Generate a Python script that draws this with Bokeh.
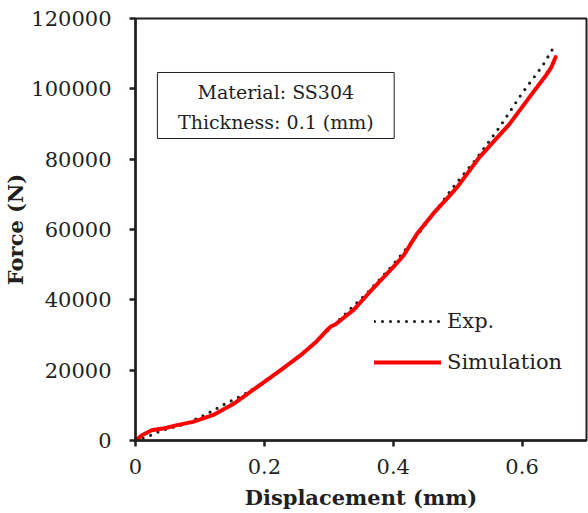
from bokeh.plotting import figure
from bokeh.models import (Range1d, BoxAnnotation, Label, Legend, LegendItem, FixedTicker,
                          PrintfTickFormatter)
from bokeh.embed import file_html
from bokeh.resources import INLINE

# Data
exp_x = [0, 0.02, 0.04, 0.079, 0.11, 0.14, 0.166, 0.2, 0.24, 0.28, 0.32, 0.36, 0.4, 0.44,
         0.493, 0.529, 0.565, 0.601, 0.632, 0.649]
exp_y = [0, 1200, 2800, 4800, 7500, 10500, 12800, 16700, 22000, 28000, 35000, 42000, 50000,
         59000, 72000, 80100, 89100, 99000, 106600, 111800]

sim_x = [0, 0.01, 0.025, 0.045, 0.063, 0.089, 0.12, 0.151, 0.192, 0.228, 0.256, 0.28, 0.298,
         0.303, 0.31, 0.339, 0.364, 0.4, 0.416, 0.437, 0.462, 0.488, 0.5, 0.534, 0.581, 0.617,
         0.637, 0.645, 0.652]
sim_y = [0, 1500, 2900, 3500, 4300, 5300, 7200, 10300, 15600, 20400, 24200, 28000, 31500,
         32400, 33000, 37200, 42300, 49300, 52600, 58800, 64500, 69700, 72200, 80600, 90100,
         99000, 103800, 106000, 109000]

x_ticks = [0, 0.2, 0.4, 0.6]
x_tick_labels = ["0", "0.2", "0.4", "0.6"]
y_ticks = [0, 20000, 40000, 60000, 80000, 100000, 120000]

FONT = "DejaVu Serif"
TXT = "#231f20"

p = figure(width=588, height=513, output_backend="svg", toolbar_location=None,
           x_range=Range1d(0, 0.7), y_range=Range1d(0, 120000),
           min_border_left=134, min_border_right=2, min_border_top=18, min_border_bottom=73)
p.grid.visible = False
p.background_fill_color = "white"
p.outline_line_color = "#231f20"
p.outline_line_width = 2

for ax in (p.xaxis[0], p.yaxis[0]):
    ax.axis_line_width = 2.5
    ax.axis_line_color = "#231f20"
    ax.major_tick_line_width = 2.5
    ax.major_tick_line_color = "#231f20"
    ax.major_tick_out = 6
    ax.major_tick_in = 0
    ax.minor_tick_out = 0
    ax.minor_tick_in = 0
    ax.major_label_text_font = FONT
    ax.major_label_text_font_size = "21px"
    ax.major_label_text_color = TXT
    ax.axis_label_text_font = FONT
    ax.axis_label_text_font_style = "bold"
    ax.axis_label_text_font_size = "21px"
    ax.axis_label_text_color = TXT

p.xaxis.ticker = FixedTicker(ticks=x_ticks)
p.xaxis.major_label_overrides = dict(zip(x_ticks, x_tick_labels))
p.yaxis.ticker = FixedTicker(ticks=y_ticks)
p.yaxis.formatter = PrintfTickFormatter(format="%d")
p.xaxis.axis_label = "Displacement (mm)"
p.yaxis.axis_label = "Force (N)"
p.xaxis.major_label_standoff = 12
p.yaxis.major_label_standoff = 18
p.xaxis.axis_label_standoff = 8
p.yaxis.axis_label_standoff = 0

r_exp = p.line(exp_x, exp_y, line_color="#231f20", line_width=3.2, line_dash="0 8",
               line_cap="round")
r_sim = p.line(sim_x, sim_y, line_color="#ff0000", line_width=4, line_join="round",
               line_cap="round")

box = BoxAnnotation(left=0.034, right=0.4015, bottom=85877, top=104645,
                    fill_color="white", fill_alpha=1, line_color="#231f20",
                    line_alpha=1, line_width=1)
p.add_layout(box)
p.add_layout(Label(x=0.2178, y=99240, text="Material: SS304", text_align="center",
                   text_baseline="middle", text_font=FONT, text_font_size="19px",
                   text_color=TXT))
p.add_layout(Label(x=0.2178, y=90710, text="Thickness: 0.1 (mm)", text_align="center",
                   text_baseline="middle", text_font=FONT, text_font_size="19px",
                   text_color=TXT))

legend = Legend(items=[LegendItem(label="Exp.", renderers=[r_exp]),
                       LegendItem(label="Simulation", renderers=[r_sim])],
                location=(239, 66), padding=0, margin=0, spacing=17,
                glyph_width=67, glyph_height=20, label_height=20, label_standoff=6,
                label_text_font=FONT, label_text_font_size="21px", label_text_color=TXT,
                border_line_color=None, background_fill_alpha=0)
p.add_layout(legend)

open("out.html", "w").write(file_html(p, INLINE))
